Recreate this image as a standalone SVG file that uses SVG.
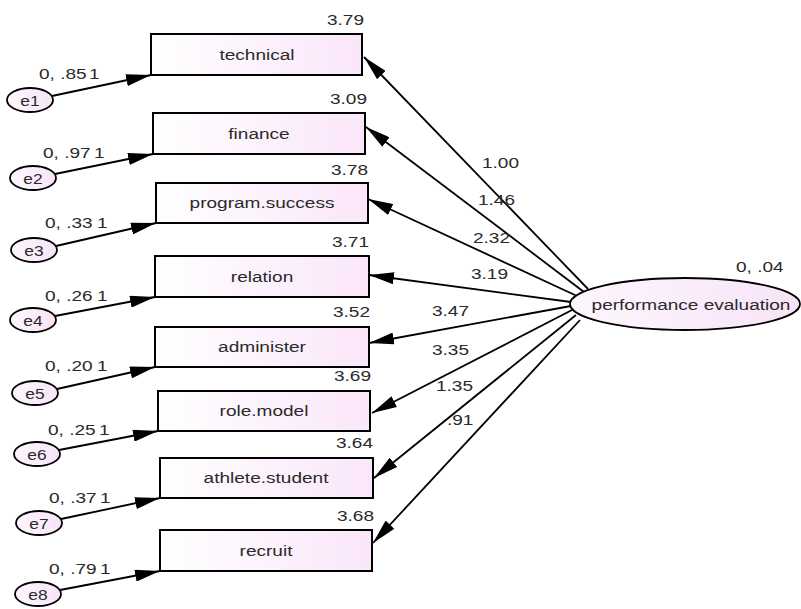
<svg xmlns="http://www.w3.org/2000/svg" width="801" height="609" viewBox="0 0 801 609">
<defs>
<linearGradient id="gBox" x1="0" y1="0" x2="1" y2="0">
<stop offset="0" stop-color="#ffffff"/>
<stop offset="1" stop-color="#fae6fa"/>
</linearGradient>
<linearGradient id="gEll" x1="0" y1="0" x2="1" y2="0">
<stop offset="0" stop-color="#fdf6fd"/>
<stop offset="1" stop-color="#f8e4f8"/>
</linearGradient>
<marker id="arr" markerUnits="userSpaceOnUse" viewBox="0 0 25 12" refX="25" refY="6" markerWidth="25" markerHeight="12" orient="auto">
<path d="M0,0 L25,6 L0,12 z" fill="#000"/>
</marker>
</defs>
<style>
text{font-family:"Liberation Sans",Arial,sans-serif;fill:#2a2a2a;}
.lbl{font-size:15px;}
.sm{font-size:14.5px;}
.mid{text-anchor:middle;}
.end{text-anchor:end;}
.box{fill:url(#gBox);stroke:#000;stroke-width:2;}
.ell{fill:url(#gEll);stroke:#000;stroke-width:1.8;}
.con{stroke:#000;stroke-width:1.8;fill:none;marker-end:url(#arr);}
</style>
<rect width="801" height="609" fill="#fff"/>

<g id="connectors">
<line class="con" x1="52" y1="96" x2="151" y2="75"/>
<line class="con" x1="55" y1="174" x2="153" y2="154"/>
<line class="con" x1="56" y1="246" x2="156" y2="223"/>
<line class="con" x1="55" y1="316" x2="155" y2="297"/>
<line class="con" x1="57" y1="389" x2="155" y2="367"/>
<line class="con" x1="59" y1="450" x2="158" y2="431"/>
<line class="con" x1="61" y1="519" x2="160" y2="498"/>
<line class="con" x1="60" y1="590" x2="160" y2="571"/>
<line class="con" x1="588" y1="289" x2="364" y2="57"/>
<line class="con" x1="584" y1="292" x2="366" y2="127"/>
<line class="con" x1="577" y1="296" x2="368" y2="199"/>
<line class="con" x1="571" y1="302" x2="369" y2="275"/>
<line class="con" x1="571" y1="306" x2="369" y2="343"/>
<line class="con" x1="572" y1="310" x2="372" y2="413"/>
<line class="con" x1="576" y1="315" x2="374" y2="478"/>
<line class="con" x1="580" y1="320" x2="373" y2="543"/>
<text class="lbl" transform="translate(482 168) scale(1.27 1)">1.00</text>
<text class="lbl" transform="translate(478 205) scale(1.27 1)">1.46</text>
<text class="lbl" transform="translate(473 243) scale(1.27 1)">2.32</text>
<text class="lbl" transform="translate(471 279) scale(1.27 1)">3.19</text>
<text class="lbl" transform="translate(432 316) scale(1.27 1)">3.47</text>
<text class="lbl" transform="translate(432 355) scale(1.27 1)">3.35</text>
<text class="lbl" transform="translate(436 391) scale(1.27 1)">1.35</text>
<text class="lbl" transform="translate(447 425) scale(1.27 1)">.91</text>
<text class="lbl" transform="translate(89 79) scale(1.27 1)">1</text>
<text class="lbl" transform="translate(94 158) scale(1.27 1)">1</text>
<text class="lbl" transform="translate(97 228) scale(1.27 1)">1</text>
<text class="lbl" transform="translate(97 301) scale(1.27 1)">1</text>
<text class="lbl" transform="translate(97 371) scale(1.27 1)">1</text>
<text class="lbl" transform="translate(99 435) scale(1.27 1)">1</text>
<text class="lbl" transform="translate(100 503) scale(1.27 1)">1</text>
<text class="lbl" transform="translate(100 574) scale(1.27 1)">1</text>
</g>

<g id="technical">
<rect class="box" x="151" y="34" width="211" height="41"/>
<text class="lbl mid" transform="translate(257 59.5) scale(1.27 1)">technical</text>
<text class="lbl end" transform="translate(364 25) scale(1.27 1)">3.79</text>
</g>
<g id="finance">
<rect class="box" x="153" y="113" width="212" height="41"/>
<text class="lbl mid" transform="translate(259 138.5) scale(1.27 1)">finance</text>
<text class="lbl end" transform="translate(367 104) scale(1.27 1)">3.09</text>
</g>
<g id="program_success">
<rect class="box" x="156" y="183" width="212" height="40"/>
<text class="lbl mid" transform="translate(262 208) scale(1.27 1)">program.success</text>
<text class="lbl end" transform="translate(368 175) scale(1.27 1)">3.78</text>
</g>
<g id="relation">
<rect class="box" x="155" y="256" width="214" height="41"/>
<text class="lbl mid" transform="translate(262 281.5) scale(1.27 1)">relation</text>
<text class="lbl end" transform="translate(369 247) scale(1.27 1)">3.71</text>
</g>
<g id="administer">
<rect class="box" x="155" y="327" width="214" height="40"/>
<text class="lbl mid" transform="translate(262 352) scale(1.27 1)">administer</text>
<text class="lbl end" transform="translate(370 317) scale(1.27 1)">3.52</text>
</g>
<g id="role_model">
<rect class="box" x="158" y="391" width="212" height="40"/>
<text class="lbl mid" transform="translate(264 416) scale(1.27 1)">role.model</text>
<text class="lbl end" transform="translate(371 381) scale(1.27 1)">3.69</text>
</g>
<g id="athlete_student">
<rect class="box" x="160" y="458" width="213" height="40"/>
<text class="lbl mid" transform="translate(266 483) scale(1.27 1)">athlete.student</text>
<text class="lbl end" transform="translate(373 448) scale(1.27 1)">3.64</text>
</g>
<g id="recruit">
<rect class="box" x="160" y="530" width="212" height="41"/>
<text class="lbl mid" transform="translate(266 555.5) scale(1.27 1)">recruit</text>
<text class="lbl end" transform="translate(374 521) scale(1.27 1)">3.68</text>
</g>

<g id="e1">
<ellipse class="ell" cx="30" cy="100" rx="23" ry="12"/>
<text class="sm mid" transform="translate(30 105.5) scale(1.2 1)">e1</text>
<text class="lbl" transform="translate(39 79) scale(1.27 1)">0, .85</text>
</g>
<g id="e2">
<ellipse class="ell" cx="33" cy="178" rx="23" ry="12"/>
<text class="sm mid" transform="translate(33 183.5) scale(1.2 1)">e2</text>
<text class="lbl" transform="translate(43 158) scale(1.27 1)">0, .97</text>
</g>
<g id="e3">
<ellipse class="ell" cx="34" cy="250" rx="23" ry="12"/>
<text class="sm mid" transform="translate(34 255.5) scale(1.2 1)">e3</text>
<text class="lbl" transform="translate(45 228) scale(1.27 1)">0, .33</text>
</g>
<g id="e4">
<ellipse class="ell" cx="33" cy="320" rx="23" ry="12"/>
<text class="sm mid" transform="translate(33 325.5) scale(1.2 1)">e4</text>
<text class="lbl" transform="translate(45 301) scale(1.27 1)">0, .26</text>
</g>
<g id="e5">
<ellipse class="ell" cx="35" cy="393" rx="23" ry="12"/>
<text class="sm mid" transform="translate(35 398.5) scale(1.2 1)">e5</text>
<text class="lbl" transform="translate(45 371) scale(1.27 1)">0, .20</text>
</g>
<g id="e6">
<ellipse class="ell" cx="37" cy="454" rx="23" ry="12"/>
<text class="sm mid" transform="translate(37 459.5) scale(1.2 1)">e6</text>
<text class="lbl" transform="translate(48 435) scale(1.27 1)">0, .25</text>
</g>
<g id="e7">
<ellipse class="ell" cx="39" cy="523" rx="23" ry="12"/>
<text class="sm mid" transform="translate(39 528.5) scale(1.2 1)">e7</text>
<text class="lbl" transform="translate(49 503) scale(1.27 1)">0, .37</text>
</g>
<g id="e8">
<ellipse class="ell" cx="38" cy="594" rx="23" ry="12"/>
<text class="sm mid" transform="translate(38 599.5) scale(1.2 1)">e8</text>
<text class="lbl" transform="translate(49 574) scale(1.27 1)">0, .79</text>
</g>

<g id="performance_evaluation">
<ellipse class="ell" cx="685" cy="304" rx="115" ry="26"/>
<text class="lbl mid" transform="translate(691 310) scale(1.27 1)">performance evaluation</text>
<text class="lbl" transform="translate(736 272) scale(1.27 1)">0, .04</text>
</g>
</svg>
